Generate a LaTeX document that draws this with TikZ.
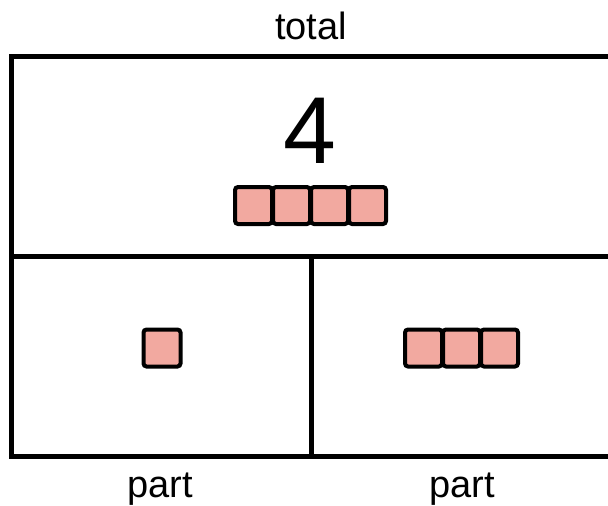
\documentclass[tikz,border=0pt]{standalone}
\usepackage{fontspec}
\setmainfont{Liberation Sans}
\begin{document}
\begin{tikzpicture}[x=1pt,y=-1pt,
  cell/.style={draw=black,line width=5pt,inner sep=0pt,minimum width=#1},
  blk/.style={draw=black,fill=blockfill,line width=4pt,rounded corners=3pt,minimum size=37pt,inner sep=0pt},
  lbl/.style={font=\fontsize{38}{40}\selectfont,inner sep=0pt,anchor=base}]
\definecolor{blockfill}{RGB}{242,169,160}
\useasboundingbox (0,0) rectangle (608,506);
\node[cell=600pt,minimum height=199.5pt] (top) at (311.5,156.25) {};
\node[cell=300pt,minimum height=200pt] (leftc) at (161.5,356) {};
\node[cell=300pt,minimum height=200pt] (rightc) at (461.5,356) {};
\node[lbl] (total) at (311,39) {total};
\node[lbl,font=\fontsize{95}{100}\selectfont] (four) at (309.5,163) {4};
\node[lbl] (partl) at (160,497) {part};
\node[lbl] (partr) at (462,497) {part};
\foreach \i in {0,1,2,3} {
  \node[blk] (t\i) at ({253.5+38*\i},205.5) {};
}
\node[blk] (l0) at (162,348) {};
\foreach \i in {0,1,2} {
  \node[blk] (r\i) at ({423.5+38*\i},348) {};
}
\end{tikzpicture}
\end{document}
